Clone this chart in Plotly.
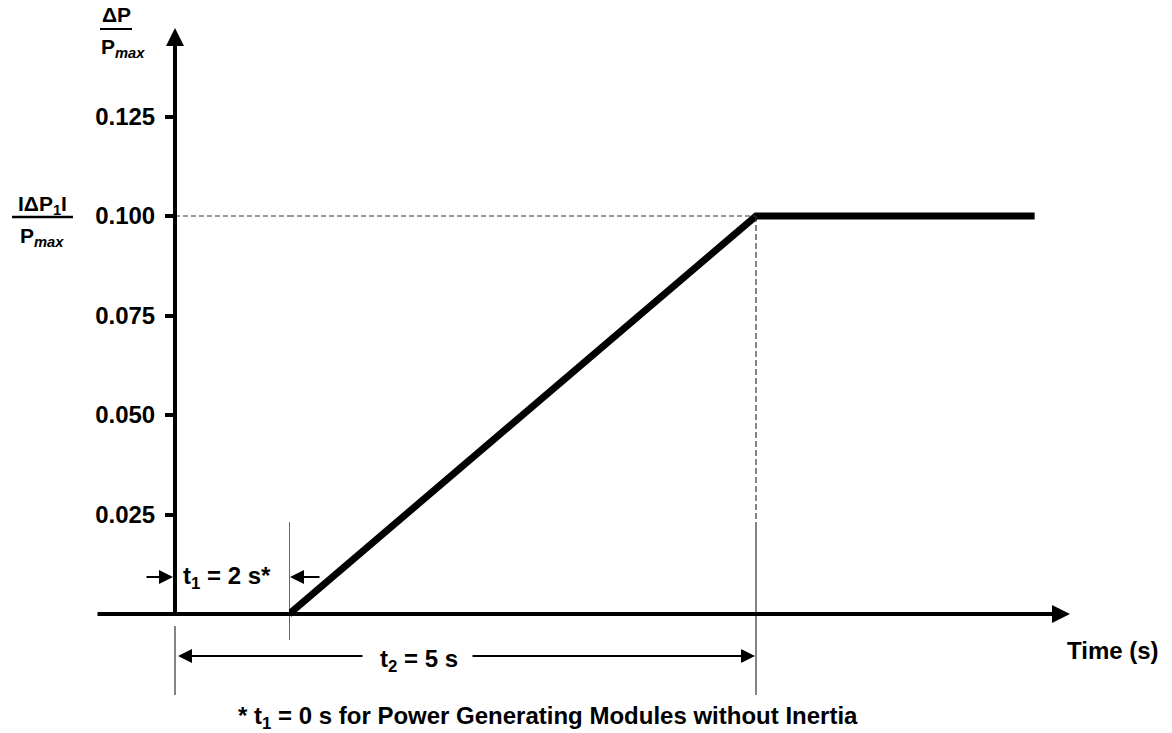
import plotly.graph_objects as go

# Active power response: delay t1, linear ramp until t2, then hold at |dP1|/Pmax
t1 = 2.0            # s, start of ramp
t2 = 5.0            # s, end of ramp
t_hold_end = 6.79   # s, end of drawn plateau
dp1 = 0.100         # |dP1| / Pmax

ramp_time = [t1, t2, t_hold_end]
ramp_power = [0.0, dp1, dp1]

y_tick_vals = [0.025, 0.050, 0.075, 0.100, 0.125]
y_tick_text = ["0.025", "0.050", "0.075", "0.100", "0.125"]

# ---- canvas / axis geometry -------------------------------------------------
W, H = 1172, 733
FONT = "Liberation Sans, Arial, sans-serif"
BLACK = "#000000"
GUIDE = "#333333"

# the time axis is drawn out of scale: [.., t1] compressed, [t1, ..] stretched
X1_SPLIT_PX = 289           # pixel where t1 sits
X1_PX_PER_S = 57.0
X2_PX_PER_S = 155.667
Y0_PX = 614                 # pixel of dP = 0
Y_PX_PER_UNIT = 3980.0


def px(x):
    return x / W


def py(y):
    return 1 - y / H


def yv(pix):
    """pixel row -> dP/Pmax value"""
    return (Y0_PX - pix) / Y_PX_PER_UNIT


def x2v(pix):
    """pixel column -> time on the stretched segment"""
    return t1 + (pix - X1_SPLIT_PX) / X2_PX_PER_S


x_range = [-X1_SPLIT_PX / X1_PX_PER_S + t1, t1]
x2_range = [t1, x2v(W)]
y_range = [yv(H), yv(0)]

fig = go.Figure()

# ramp and plateau
fig.add_trace(go.Scatter(
    x=ramp_time, y=ramp_power, xaxis="x2", yaxis="y", mode="lines",
    line=dict(color=BLACK, width=7), cliponaxis=False, hoverinfo="skip",
))

# dashed reference at dP1 (split across the two time segments)
dash = "5px,3px"
fig.add_trace(go.Scatter(
    x=[0, t1], y=[dp1, dp1], xaxis="x", yaxis="y", mode="lines",
    line=dict(color=GUIDE, width=1.2, dash=dash), hoverinfo="skip",
))
fig.add_trace(go.Scatter(
    x=[t1, t2], y=[dp1, dp1], xaxis="x2", yaxis="y", mode="lines",
    line=dict(color=GUIDE, width=1.2, dash=dash), hoverinfo="skip",
))

# vertical guides
guide_top = yv(522)
guide_short = yv(640)
guide_long = yv(695)
fig.add_trace(go.Scatter(
    x=[t2, t2], y=[dp1, guide_top], xaxis="x2", yaxis="y", mode="lines",
    line=dict(color=GUIDE, width=1.2, dash="6px,3px"), hoverinfo="skip",
))
fig.add_trace(go.Scatter(
    x=[t2, t2], y=[guide_top, guide_long], xaxis="x2", yaxis="y", mode="lines",
    line=dict(color=GUIDE, width=1.2), cliponaxis=False, hoverinfo="skip",
))
fig.add_trace(go.Scatter(
    x=[t1, t1], y=[guide_top, guide_short], xaxis="x2", yaxis="y", mode="lines",
    line=dict(color=BLACK, width=1.2), cliponaxis=False, hoverinfo="skip",
))
fig.add_trace(go.Scatter(
    x=[0, 0], y=[yv(626), guide_long], xaxis="x", yaxis="y", mode="lines",
    line=dict(color=GUIDE, width=1.2), cliponaxis=False, hoverinfo="skip",
))

annotations = []


def arrow(x, y, xref, ax, ay=0, width=2, size=1.4, standoff=0, yref="y"):
    annotations.append(dict(
        x=x, y=y, xref=xref, yref=yref, ax=ax, ay=ay, axref="pixel", ayref="pixel",
        text="", showarrow=True, arrowhead=2, arrowwidth=width, arrowsize=size,
        arrowcolor=BLACK, standoff=standoff,
    ))


# axes drawn as arrows
annotations.append(dict(
    x=0, y=yv(28), xref="x", yref="y", ax=0, ay=0, axref="x", ayref="y",
    text="", showarrow=True, arrowhead=2, arrowwidth=4, arrowsize=0.9, arrowcolor=BLACK,
))
annotations.append(dict(
    x=x2v(1070), y=0, xref="x2", yref="y", ax=x2v(96), ay=0, axref="x2", ayref="y",
    text="", showarrow=True, arrowhead=2, arrowwidth=4, arrowsize=0.9, arrowcolor=BLACK,
))

# t1 dimension
y_t1 = yv(577)
arrow(0, y_t1, "x", ax=-30, standoff=2)
arrow(t1, y_t1, "x2", ax=32, standoff=1)
# t2 dimension
y_t2 = yv(656)
arrow(0, y_t2, "x", ax=189, standoff=3)
arrow(t2, y_t2, "x2", ax=-285, standoff=1)


def label(text, x, y, size=24, xanchor="center", yanchor="middle"):
    annotations.append(dict(
        text=text, x=px(x), y=py(y), xref="paper", yref="paper",
        xanchor=xanchor, yanchor=yanchor, showarrow=False,
        font=dict(family=FONT, size=size, color=BLACK, weight="bold"),
    ))


label("t<sub>1</sub> = 2 s*", 227, 577)
label("t<sub>2</sub> = 5 s", 419, 660)
label("Time (s)", 1113, 650)
label("* t<sub>1</sub> = 0 s for Power Generating Modules without Inertia", 548, 717)

# y-axis titles
label("ΔP", 100, 15, size=21, xanchor="left")
label("P<sub><i>max</i></sub>", 99, 48, size=21, xanchor="left")
label("IΔP<sub>1</sub>I", 42, 205, size=21)
label("P<sub><i>max</i></sub>", 42, 237, size=21)

shapes = [
    dict(type="line", xref="paper", yref="paper", x0=px(100), x1=px(132), y0=py(29), y1=py(29),
         line=dict(color=BLACK, width=2)),
    dict(type="line", xref="paper", yref="paper", x0=px(12), x1=px(73), y0=py(217), y1=py(217),
         line=dict(color=BLACK, width=2.5)),
]

fig.update_layout(
    width=W, height=H,
    margin=dict(l=0, r=0, t=0, b=0),
    paper_bgcolor="white", plot_bgcolor="white",
    showlegend=False,
    xaxis=dict(domain=[0, px(X1_SPLIT_PX)], range=x_range, visible=False, anchor="y"),
    xaxis2=dict(domain=[px(X1_SPLIT_PX), 1], range=x2_range, visible=False, anchor="y"),
    yaxis=dict(
        domain=[0, 1], range=y_range, anchor="free", position=px(175),
        showline=False, showgrid=False, zeroline=False,
        tickmode="array", tickvals=y_tick_vals, ticktext=y_tick_text,
        ticks="outside", ticklen=10, tickwidth=3.5, tickcolor=BLACK,
        ticklabelstandoff=5,
        tickfont=dict(family=FONT, size=24, color=BLACK, weight="bold"),
    ),
    annotations=annotations,
    shapes=shapes,
)

fig.write_html("out.html")
